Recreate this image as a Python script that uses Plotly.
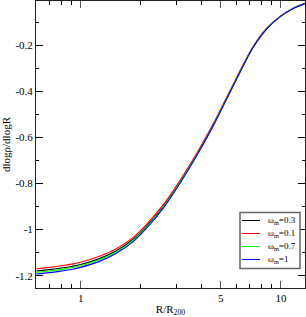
import plotly.graph_objects as go

# ---- data ----
R = [0.6, 0.7, 0.8, 0.9, 1.0, 1.25, 1.5, 1.83, 2.14, 2.58, 3.13, 3.79, 4.59, 5.25, 5.78, 6.48, 7.27, 8.48, 9.89, 11.5, 13.2]
w03 = [-1.180, -1.174, -1.167, -1.160, -1.152, -1.125, -1.093, -1.042, -0.984, -0.900, -0.793, -0.675, -0.545, -0.445, -0.372, -0.287, -0.207, -0.128, -0.076, -0.040, -0.018]
w01 = [-1.170, -1.164, -1.157, -1.150, -1.142, -1.115, -1.084, -1.034, -0.976, -0.893, -0.787, -0.670, -0.541, -0.441, -0.369, -0.284, -0.205, -0.126, -0.075, -0.039, -0.018]
w07 = [-1.186, -1.180, -1.173, -1.166, -1.157, -1.130, -1.098, -1.047, -0.988, -0.904, -0.796, -0.678, -0.547, -0.447, -0.374, -0.288, -0.208, -0.129, -0.077, -0.040, -0.018]
w1 = [-1.193, -1.187, -1.180, -1.173, -1.164, -1.137, -1.104, -1.052, -0.993, -0.908, -0.800, -0.681, -0.550, -0.449, -0.376, -0.290, -0.209, -0.130, -0.077, -0.041, -0.019]

labels = ["ω<sub>m</sub>=0.3", "ω<sub>m</sub>=0.1", "ω<sub>m</sub>=0.7", "ω<sub>m</sub>=1"]
series = [w03, w01, w07, w1]
colors = ["#000000", "#ff0000", "#00ff00", "#0000ff"]

x_major = [1, 5, 10]
x_major_text = ["1", "5", "10"]
x_minor = [0.6, 0.7, 0.8, 0.9, 2, 3, 4, 6, 7, 8, 9]
y_major = [-1.2, -1.0, -0.8, -0.6, -0.4, -0.2]
y_major_text = ["-1.2", "-1", "-0.8", "-0.6", "-0.4", "-0.2"]
y_minor = [-1.1, -0.9, -0.7, -0.5, -0.3, -0.1]

FONT = "Liberation Serif"

fig = go.Figure()
for ys, lab, col in zip(series, labels, colors):
    fig.add_trace(go.Scatter(x=R, y=ys, mode="lines", name=lab,
                             line=dict(color=col, width=1.1, shape="spline", smoothing=1.0),
                             showlegend=False))

W, H = 306, 317
ml, mr, mt, mb = 36, 1, 1, 29
pw, ph = W - ml - mr, H - mt - mb

def px(x):
    return (x - ml) / pw

def py(y):
    return (H - mb - y) / ph

shapes = [dict(type="rect", xref="paper", yref="paper",
               x0=px(240), x1=px(300), y0=py(268.5), y1=py(212.5),
               line=dict(color="#666666", width=1.5), fillcolor="white")]
annotations = []
rows = [220.5, 233.5, 246.5, 259.5]
for yy, lab, col in zip(rows, labels, colors):
    shapes.append(dict(type="line", xref="paper", yref="paper",
                       x0=px(242), x1=px(260), y0=py(yy), y1=py(yy),
                       line=dict(color=col, width=1)))
    annotations.append(dict(xref="paper", yref="paper", x=px(266), y=py(yy),
                            text=lab, showarrow=False, xanchor="left", yanchor="middle",
                            font=dict(family=FONT, size=9, color="black")))

fig.update_layout(
    width=W, height=H,
    margin=dict(l=ml, r=mr, t=mt, b=mb),
    paper_bgcolor="white", plot_bgcolor="white",
    font=dict(family=FONT, size=11, color="black"),
    shapes=shapes, annotations=annotations,
    showlegend=False,
)
fig.update_xaxes(
    type="log", range=[-0.223, 1.12],
    tickmode="array", tickvals=x_major, ticktext=x_major_text,
    ticks="inside", ticklen=7, tickwidth=1, tickcolor="#555555",
    minor=dict(tickmode="array", tickvals=x_minor, ticks="inside", ticklen=4, tickcolor="black", showgrid=False),
    showline=True, linecolor="#222222", linewidth=1, mirror="allticks",
    showgrid=False, zeroline=False,
    title=dict(text="R/R<sub>200</sub>", standoff=4, font=dict(family=FONT, size=11)),
    tickfont=dict(family=FONT, size=11),
)
fig.update_yaxes(
    range=[-1.2536, -0.008],
    tickmode="array", tickvals=y_major, ticktext=y_major_text,
    ticks="inside", ticklen=7, tickwidth=1, tickcolor="black",
    minor=dict(tickmode="array", tickvals=y_minor, ticks="inside", ticklen=3, tickcolor="black", showgrid=False),
    showline=True, linecolor="#222222", linewidth=1, mirror="allticks",
    showgrid=False, zeroline=False,
    title=dict(text="dlogρ/dlogR", standoff=6, font=dict(family=FONT, size=11)),
    tickfont=dict(family=FONT, size=11),
)

fig.write_html("out.html", config={"displayModeBar": False},
               post_script="document.body.style.margin='0';document.body.style.padding='0';")
